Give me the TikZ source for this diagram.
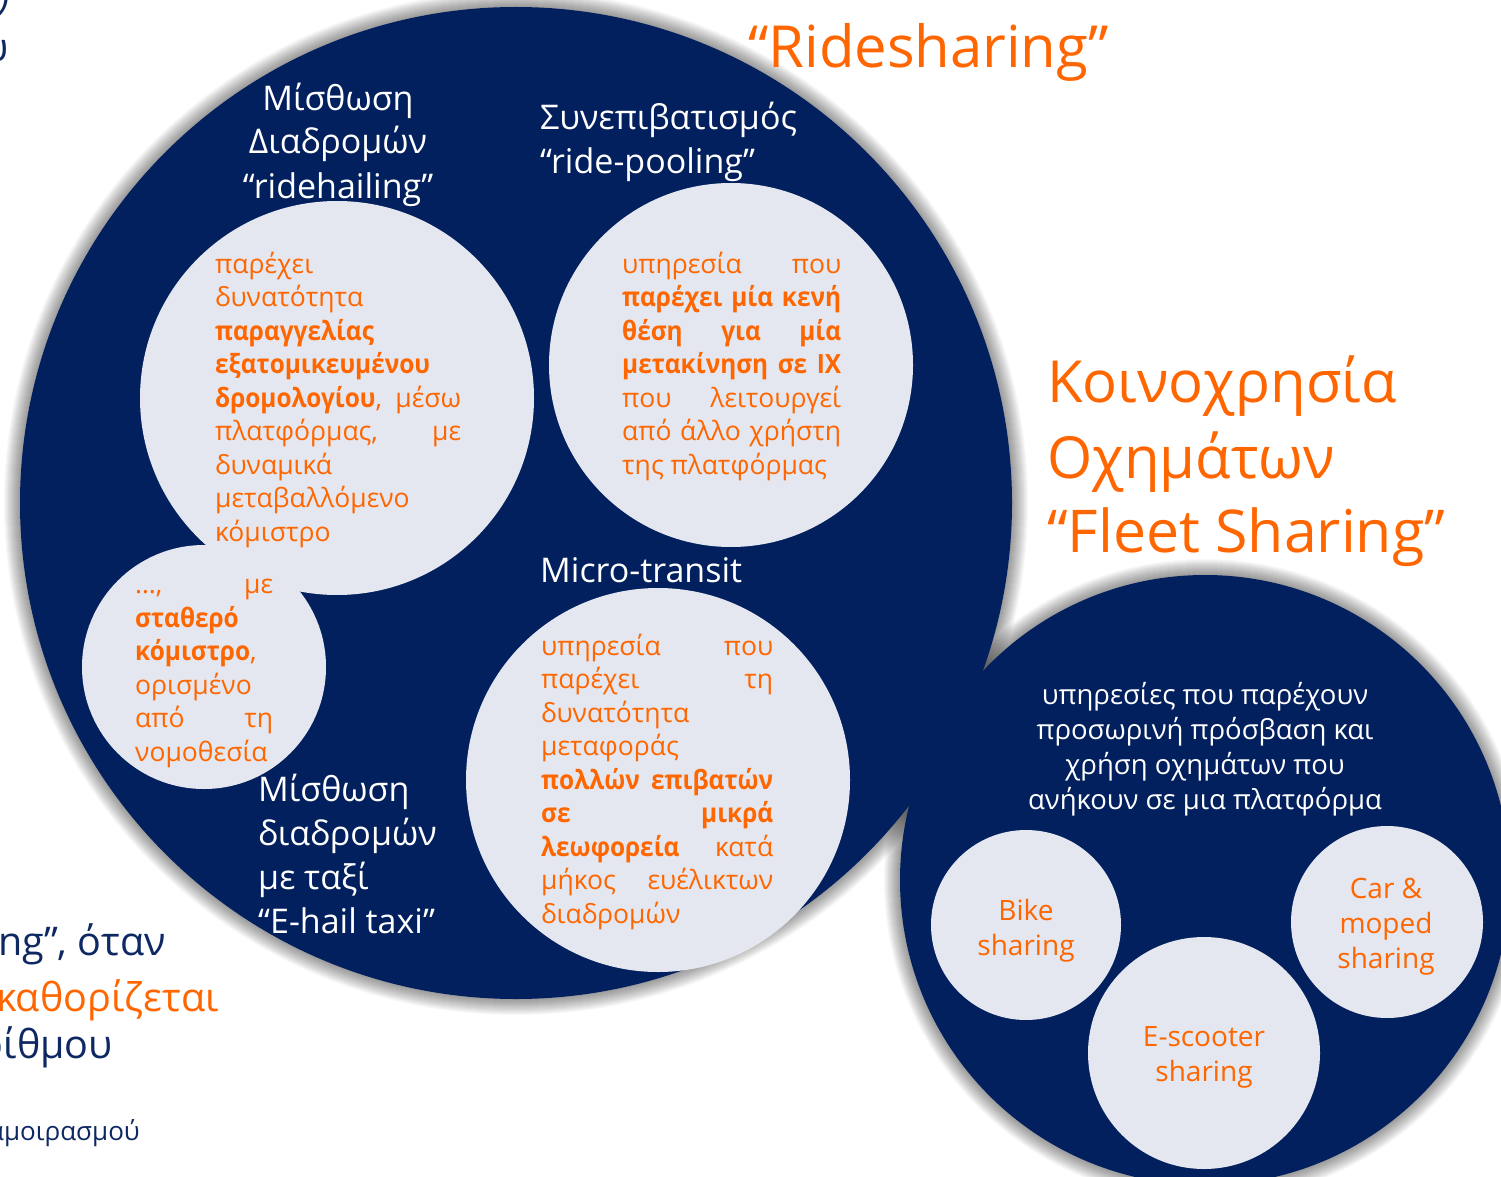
\documentclass[tikz,border=0pt]{standalone}
\usepackage{fontspec}
\setmainfont{Open Sans}[BoldFeatures={FakeStretch=0.92}]
\definecolor{navy}{RGB}{2,32,94}
\definecolor{inkblue}{RGB}{14,40,100}
\definecolor{paleblue}{RGB}{228,231,239}
\definecolor{accent}{RGB}{255,102,0}
% justified line of a given width
\newcommand\jl[2]{\makebox[#1][s]{#2}}
\begin{document}
\begin{tikzpicture}[x=1pt,y=-1pt,
  disc/.style={circle,inner sep=0pt,draw=none},
  title/.style={text=white,font=\fontsize{34}{44}\selectfont,inner sep=0pt},
  body/.style={text=accent,font=\fontsize{26.5}{33.5}\selectfont,inner sep=0pt,align=left},
  label/.style={text=accent,font=\fontsize{28}{35}\selectfont,inner sep=0pt,align=center},
  side/.style={text=inkblue,font=\fontsize{39.5}{47}\selectfont,inner sep=0pt}]
\useasboundingbox (0,0) rectangle (1501,1177);
\fill[white] (0,0) rectangle (1501,1177);

% soft halos behind the two large discs
\foreach \k in {1,...,16}{
  \fill[black,opacity=0.028] (516,503) circle [radius={496pt+\k*1pt}];
  \fill[black,opacity=0.028] (1205,880) circle [radius={305pt+\k*1pt}];
}

% large discs
\node[disc,fill=navy,minimum size=992pt] (rs) at (516,503) {};
\node[disc,fill=navy,minimum size=610pt] (fs) at (1205,880) {};

% inner discs
\node[disc,fill=paleblue,minimum size=394pt] (hail) at (337,398) {};
\node[disc,fill=paleblue,minimum size=364pt] (pool) at (731,365) {};
\node[disc,fill=paleblue,minimum size=384pt] (micro) at (658,780) {};
\node[disc,fill=paleblue,minimum size=244pt] (taxi) at (204,667) {};
\node[disc,fill=paleblue,minimum size=190pt] (bike) at (1026,925) {};
\node[disc,fill=paleblue,minimum size=232pt] (scoot) at (1204,1053) {};
\node[disc,fill=paleblue,minimum size=192pt] (car) at (1387,922) {};

% headings on the navy disc (base = baseline of the last line)
\node[title,anchor=base,align=center] (hailT) at (338,198)
  {Μίσθωση\\Διαδρομών\\“ridehailing”};
\node[title,anchor=base west,align=left] (poolT) at (540,174)
  {Συνεπιβατισμός\\“ride-pooling”};
\node[title,anchor=base west] (microT) at (540,582) {Micro-transit};
\node[title,anchor=base west,align=left] (taxiT) at (258,933)
  {Μίσθωση\\διαδρομών\\με ταξί\\“E-hail taxi”};

% descriptions inside the pale discs
\node[body,anchor=base west] (hailB) at (215,541)
  {παρέχει\\δυνατότητα\\\textbf{παραγγελίας}\\\textbf{εξατομικευμένου}\\
   \jl{246pt}{\textbf{δρομολογίου}, μέσω}\\\jl{246pt}{πλατφόρμας, με}\\
   δυναμικά\\μεταβαλλόμενο\\κόμιστρο};
\node[body,anchor=base west] (poolB) at (622,474)
  {\jl{219pt}{υπηρεσία που}\\\jl{219pt}{\textbf{παρέχει μία κενή}}\\
   \jl{219pt}{\textbf{θέση για μία}}\\\jl{219pt}{\textbf{μετακίνηση σε ΙΧ}}\\
   \jl{219pt}{που λειτουργεί}\\\jl{219pt}{από άλλο χρήστη}\\της πλατφόρμας};
\node[body,anchor=base west] (taxiB) at (135,761)
  {\jl{138pt}{…, με}\\\textbf{σταθερό}\\\textbf{κόμιστρο},\\ορισμένο\\
   \jl{138pt}{από τη}\\νομοθεσία};
\node[body,anchor=base west] (microB) at (541,923)
  {\jl{232pt}{υπηρεσία που}\\\jl{232pt}{παρέχει τη}\\δυνατότητα\\μεταφοράς\\
   \jl{232pt}{\textbf{πολλών επιβατών}}\\\jl{232pt}{\textbf{σε μικρά}}\\
   \jl{232pt}{\textbf{λεωφορεία} κατά}\\\jl{232pt}{μήκος ευέλικτων}\\διαδρομών};

% fleet sharing group
\node[text=accent,font=\fontsize{58}{76}\selectfont,inner sep=0pt,anchor=base west,align=left]
  (fleetT) at (1047,478) {Κοινοχρησία\\Οχημάτων};
\node[text=accent,font=\fontsize{59}{60}\selectfont,inner sep=0pt,anchor=base west]
  (fleetE) at (1047,552) {“Fleet Sharing”};
\node[text=white,font=\fontsize{27.5}{35}\selectfont,inner sep=0pt,anchor=base,align=center]
  (fleetB) at (1205,809)
  {υπηρεσίες που παρέχουν\\προσωρινή πρόσβαση και\\χρήση οχημάτων που\\ανήκουν σε μια πλατφόρμα};
\node[label,anchor=base] (bikeL) at (1026,955) {Bike\\sharing};
\node[label,anchor=base] (carL) at (1386,968) {Car \&\\moped\\sharing};
\node[label,anchor=base] (scootL) at (1204,1081) {E-scooter\\sharing};

% ridesharing heading
\node[text=accent,font=\fontsize{58}{60}\selectfont,inner sep=0pt,anchor=base west]
  (rsT) at (748,68) {“Ridesharing”};

% text running in from the left margin
\node[side,anchor=base east] (m1) at (10,17) {ν};
\node[side,anchor=base east] (m2) at (9,62) {υ};
\node[side,anchor=base west] (m3) at (-2,955) {ng”, όταν};
\node[side,anchor=base west,text=accent] (m4) at (-4,1011) {καθορίζεται};
\node[side,anchor=base east] (m5) at (113,1058) {ρίθμου};
\node[text=inkblue,font=\fontsize{26}{30}\selectfont,inner sep=0pt,anchor=base east]
  (m6) at (140,1140) {διαμοιρασμού};
\end{tikzpicture}
\end{document}
